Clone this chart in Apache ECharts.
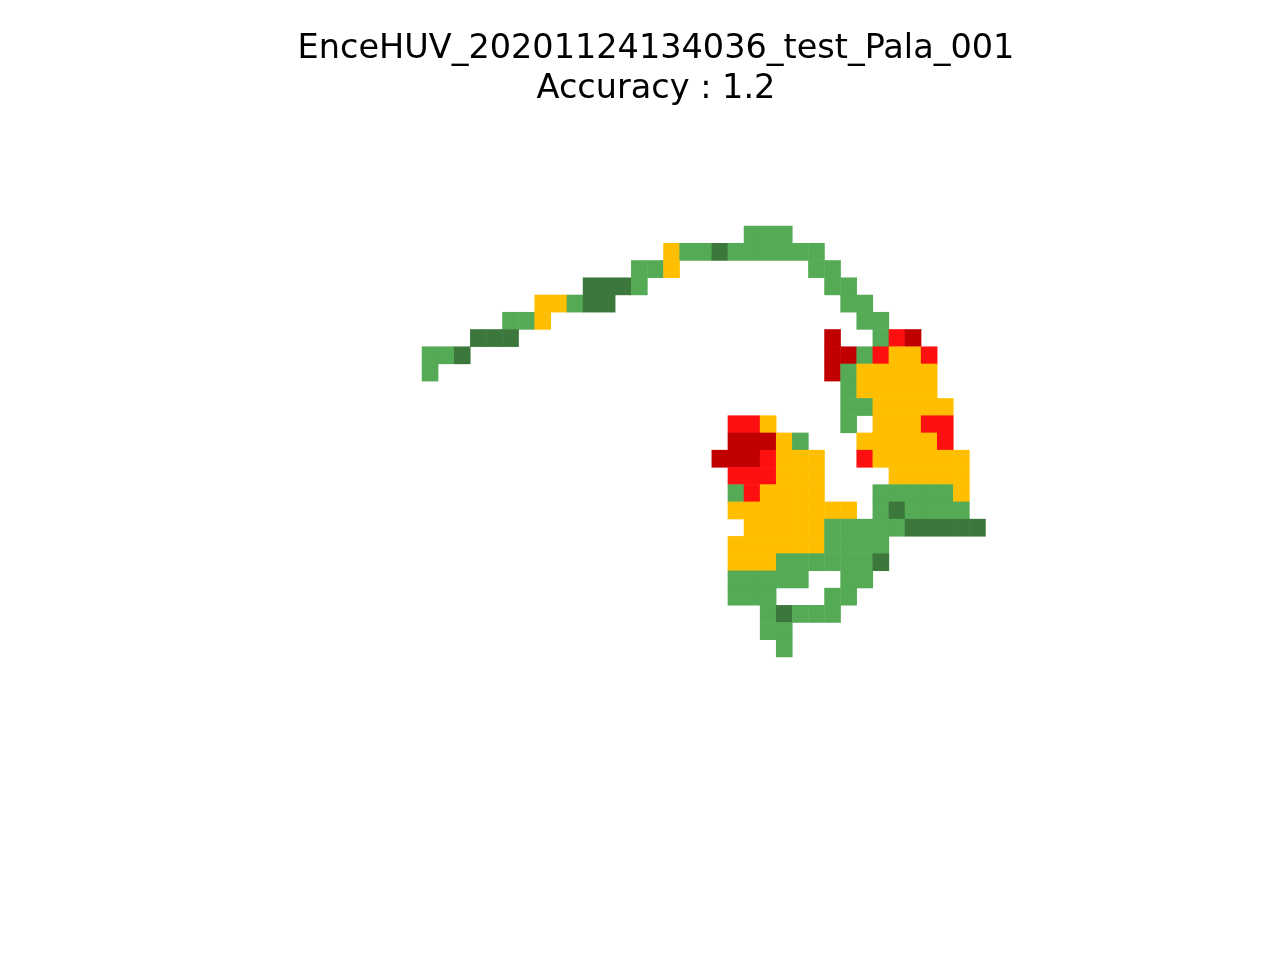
<!DOCTYPE html>
<html>
<head>
<meta charset="utf-8">
<script src="https://cdn.jsdelivr.net/npm/echarts@6/dist/echarts.min.js"></script>
<style>html,body{margin:0;padding:0;background:#fff}#c{width:1280px;height:960px}</style>
</head>
<body>
<div id="c"></div>
<script>
// Titles
const titleLine1 = 'EnceHUV_20201124134036_test_Pala_001';
const titleLine2 = 'Accuracy : 1.2';

// Grid dimensions (visible cell block)
const nCols = 35;
const nRows = 25;

// Class codes: D = dark green, G = green, Y = yellow, R = red, K = dark red
const classCodes = ['D', 'G', 'Y', 'R', 'K'];
const classColors = ['#3c783c', '#55aa55', '#ffbf00', '#ff1010', '#c00000'];

// Cell runs: [row, startColumn, codes...]
const runs = [
  [0, 20, 'GGG'],
  [1, 15, 'YGGDGGGGGG'],
  [2, 13, 'GGY'], [2, 24, 'GG'],
  [3, 10, 'DDDG'], [3, 25, 'GG'],
  [4, 7, 'YYGDD'], [4, 26, 'GG'],
  [5, 5, 'GGY'], [5, 27, 'GG'],
  [6, 3, 'DDD'], [6, 25, 'K'], [6, 28, 'GRK'],
  [7, 0, 'GGD'], [7, 25, 'KKGRYYR'],
  [8, 0, 'G'], [8, 25, 'KGYYYYY'],
  [9, 26, 'GYYYYY'],
  [10, 26, 'GGYYYYY'],
  [11, 19, 'RRY'], [11, 26, 'G'], [11, 28, 'YYYRR'],
  [12, 19, 'KKKYG'], [12, 27, 'YYYYYR'],
  [13, 18, 'KKKRYYY'], [13, 27, 'RYYYYYY'],
  [14, 19, 'RRRYYY'], [14, 29, 'YYYYY'],
  [15, 19, 'GRYYYY'], [15, 28, 'GGGGGY'],
  [16, 19, 'YYYYYYYY'], [16, 28, 'GDGGGG'],
  [17, 20, 'YYYYYGGGGGDDDDD'],
  [18, 19, 'YYYYYYGGGG'],
  [19, 19, 'YYYGGGGGGD'],
  [20, 19, 'GGGGG'], [20, 26, 'GG'],
  [21, 19, 'GGG'], [21, 25, 'GG'],
  [22, 21, 'GDGGG'],
  [23, 21, 'GG'],
  [24, 22, 'G']
];

const colCats = Array.from({length: nCols}, (_, i) => String(i));
const rowCats = Array.from({length: nRows}, (_, i) => String(i));

const data = [];
runs.forEach(([r, c0, codes]) => {
  for (let k = 0; k < codes.length; k++) {
    data.push([c0 + k, r, classCodes.indexOf(codes[k])]);
  }
});

const chart = echarts.init(document.getElementById('c'), null, {renderer: 'canvas'});
chart.setOption({
  backgroundColor: '#ffffff',
  animation: false,
  title: {
    text: titleLine1 + '\n' + titleLine2,
    left: 651,
    top: 24,
    textAlign: 'center',
    textStyle: {
      fontFamily: 'DejaVu Sans',
      fontSize: 33.5,
      fontWeight: 'normal',
      color: '#000000',
      lineHeight: 40
    }
  },
  grid: {left: 422, top: 226, width: 563.5, height: 431},
  xAxis: {type: 'category', data: colCats, show: false},
  yAxis: {type: 'category', data: rowCats, inverse: true, show: false},
  visualMap: {
    type: 'piecewise',
    show: false,
    dimension: 2,
    pieces: classColors.map((col, i) => ({value: i, color: col}))
  },
  series: [{
    type: 'heatmap',
    data: data,
    itemStyle: {borderWidth: 0},
    emphasis: {disabled: true}
  }]
});
</script>
</body>
</html>
